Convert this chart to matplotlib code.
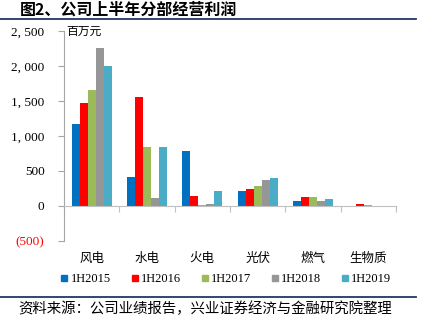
import numpy as np
import matplotlib.pyplot as plt
from matplotlib.lines import Line2D

plt.rcParams['font.family'] = ['Noto Sans CJK SC', 'DejaVu Sans']

categories = ['风电', '水电', '火电', '光伏', '燃气', '生物质']
series_names = ['1H2015', '1H2016', '1H2017', '1H2018', '1H2019']
v2015 = [1170, 415, 780, 220, 65, -5]
v2016 = [1470, 1550, 145, 245, 130, 35]
v2017 = [1650, 845, 15, 290, 130, 15]
v2018 = [2250, 115, 35, 375, 70, -5]
v2019 = [2000, 845, 220, 395, 105, -5]
series_values = [v2015, v2016, v2017, v2018, v2019]
colors = ['#0070C0', '#FF0000', '#9BBB59', '#969696', '#4BACC6']
yticks = [-500, 0, 500, 1000, 1500, 2000, 2500]
ytick_labels = ['(500)', '0', '500', '1, 000', '1, 500', '2, 000', '2, 500']

serif = ['Liberation Serif', 'DejaVu Serif']

fig = plt.figure(figsize=(4.23, 3.27), dpi=100)
ax = fig.add_axes([64 / 423, 1 - 241 / 327, 332 / 423, 210 / 327])

x = np.arange(len(categories))
w = 0.145
for i, (vals, c) in enumerate(zip(series_values, colors)):
    ax.bar(x + (i - 2) * w, vals, w, color=c, label=series_names[i], zorder=2)

ax.set_xlim(-0.5, len(categories) - 0.5)
ax.set_ylim(-500, 2500)
ax.set_yticks(yticks)
ax.set_yticklabels(ytick_labels, family=serif, fontsize=9.5)
ax.get_yticklabels()[0].set_color('#FF0000')
ax.tick_params(axis='y', length=4, color='#A6A6A6', pad=10)

for s in ['top', 'right']:
    ax.spines[s].set_visible(False)
ax.spines['left'].set_color('#A6A6A6')
ax.spines['bottom'].set_position(('data', 0))
ax.spines['bottom'].set_color('#C0C0C0')
ax.set_xticks(np.arange(-0.5, len(categories)))
ax.set_xticklabels([])
ax.tick_params(axis='x', length=4, color='#C0C0C0', direction='out')

for xi, cat in zip(x, categories):
    ax.text(xi, -0.081, cat, transform=ax.get_xaxis_transform(),
            ha='center', va='center', fontsize=9)

ax.text(0.008, 1.0, '百万元', transform=ax.transAxes, ha='left', va='center', fontsize=8.5)

handles = [Line2D([], [], marker='s', linestyle='none', markersize=4.5, color=c) for c in colors]
fig.legend(handles, series_names, loc='center', bbox_to_anchor=(226 / 423, 1 - 279 / 327),
           ncol=5, frameon=False, prop={'family': serif, 'size': 9},
           handlelength=0.6, handletextpad=0.2, columnspacing=1.6)

fig.text(20 / 423, 1 - 10 / 327, '图2、公司上半年分部经营利润', ha='left', va='center',
         fontsize=11.5, fontweight='bold')
fig.add_artist(Line2D([0, 416 / 423], [1 - 19 / 327] * 2, color='#1F3864', lw=1.3))
fig.add_artist(Line2D([0, 416 / 423], [1 - 297 / 327] * 2, color='#1F3864', lw=1.3))
fig.text(18 / 423, 1 - 309 / 327, '资料来源：公司业绩报告，兴业证券经济与金融研究院整理',
         ha='left', va='center', fontsize=10.4)

fig.savefig('out.png', dpi=100)
